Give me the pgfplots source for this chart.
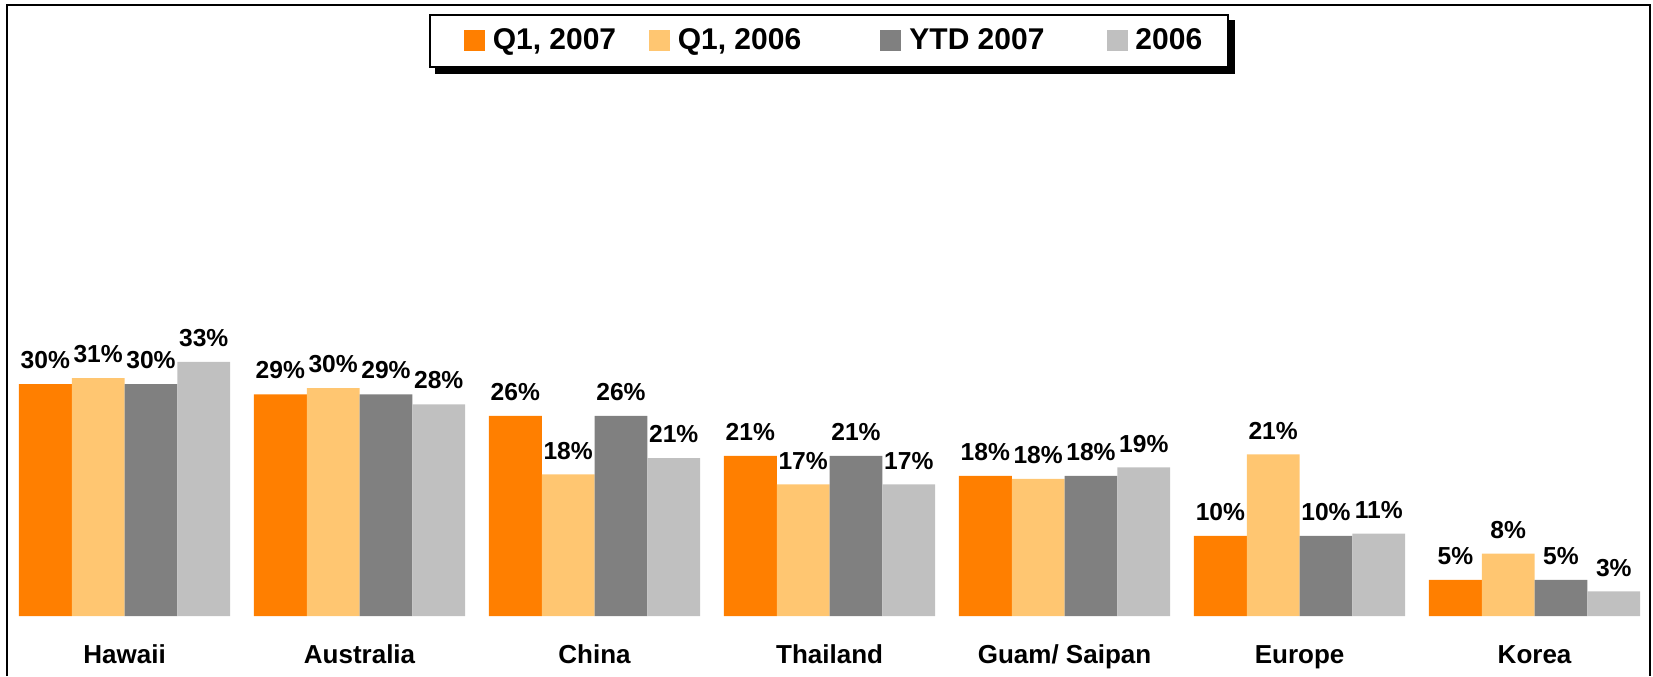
\documentclass[border=0pt]{standalone}
\usepackage{pgfplots}
\pgfplotsset{compat=1.18}
\usepackage{fontspec}
\setmainfont{Liberation Sans}
\pgfdeclarelayer{background}
\pgfsetlayers{background,main}
\definecolor{cA}{HTML}{FF7F00}
\definecolor{cB}{HTML}{FFC671}
\definecolor{cC}{HTML}{808080}
\definecolor{cD}{HTML}{C0C0C0}
\begin{document}
\begin{tikzpicture}
\begin{axis}[
  scale only axis,
  width=826.5pt, height=338pt,
  axis line style={draw=none},
  major tick length=0pt,
  ytick=\empty,
  xmin=-0.530, xmax=6.504,
  ymin=-7.79, ymax=80,
  ybar=0pt, bar width=26.4pt,
  xtick=data,
  xticklabels={Hawaii,Australia,China,Thailand,Guam/ Saipan,Europe,Korea},
  xticklabel style={anchor=base, yshift=6.5pt, font=\fontsize{13}{15}\selectfont\bfseries},
  point meta=explicit symbolic,
  nodes near coords={\pgfplotspointmeta\%},
  nodes near coords style={font=\fontsize{12.3}{14}\selectfont\bfseries, anchor=south, yshift=4pt},
  legend columns=4,
  legend style={name=leg, at={(0.2595,0.979)}, anchor=north west, draw=black, line width=0.8pt,
    fill=white,
    font=\fontsize{15}{17}\selectfont\bfseries, inner xsep=11pt, inner ysep=5pt,
    /tikz/column 1/.style={column sep=2pt},
    /tikz/column 2/.style={column sep=8.3pt},
    /tikz/column 3/.style={column sep=2pt},
    /tikz/column 4/.style={column sep=31.6pt},
    /tikz/column 5/.style={column sep=2pt},
    /tikz/column 6/.style={column sep=23pt},
    /tikz/column 7/.style={column sep=2pt}},
  legend image code/.code={\path (0pt,0pt); \fill[#1] (6pt,-5.25pt) rectangle (16.5pt,5.25pt);},
]
\addplot[fill=cA, draw=none] coordinates {(0,30.1)[30] (1,28.8)[29] (2,26.0)[26] (3,20.8)[21] (4,18.2)[18] (5,10.4)[10] (6,4.7)[5]};
\addplot[fill=cB, draw=none] coordinates {(0,30.9)[31] (1,29.6)[30] (2,18.4)[18] (3,17.1)[17] (4,17.8)[18] (5,21.0)[21] (6,8.1)[8]};
\addplot[fill=cC, draw=none] coordinates {(0,30.1)[30] (1,28.8)[29] (2,26.0)[26] (3,20.8)[21] (4,18.2)[18] (5,10.4)[10] (6,4.7)[5]};
\addplot[fill=cD, draw=none] coordinates {(0,33.0)[33] (1,27.5)[28] (2,20.5)[21] (3,17.1)[17] (4,19.3)[19] (5,10.7)[11] (6,3.2)[3]};
\legend{Q1{,} 2007, Q1{,} 2006, YTD 2007, 2006}
\draw[line width=1pt] (axis description cs:0.0042,0) -- (axis description cs:0.0042,0.9926) -- (axis description cs:0.9982,0.9926) -- (axis description cs:0.9982,0);
\end{axis}
\begin{pgfonlayer}{background}
\fill[black] ([shift={(3pt,-3pt)}]leg.south west) rectangle ([shift={(3pt,-3pt)}]leg.north east);
\end{pgfonlayer}
\pgfresetboundingbox
\path (current axis.south west) rectangle (current axis.north east);
\end{tikzpicture}
\end{document}
